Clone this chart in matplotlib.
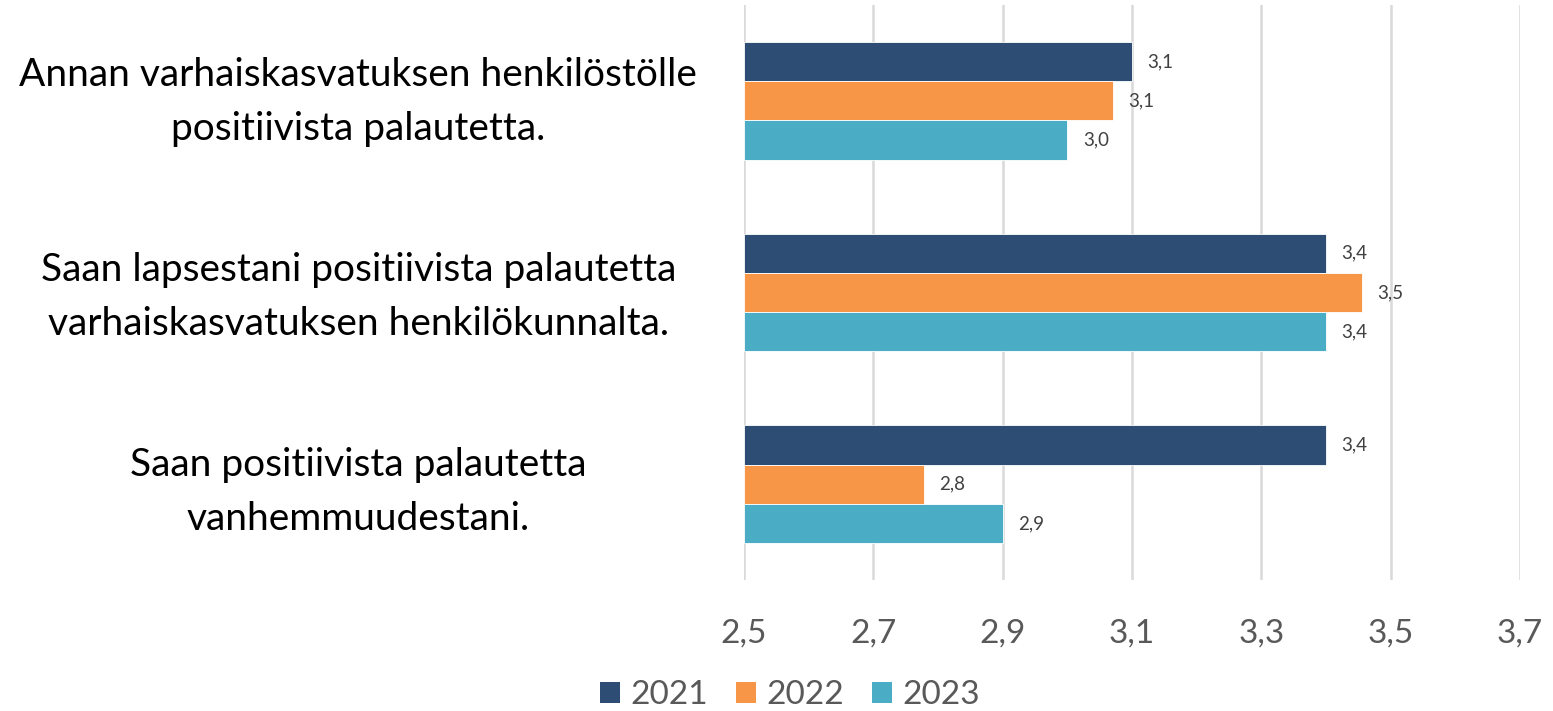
import matplotlib
matplotlib.use("Agg")
import matplotlib.pyplot as plt
import matplotlib.transforms as mtransforms
import numpy as np
from matplotlib.patches import Patch

categories = [
    "Annan varhaiskasvatuksen henkilöstölle\npositiivista palautetta.",
    "Saan lapsestani positiivista palautetta\nvarhaiskasvatuksen henkilökunnalta.",
    "Saan positiivista palautetta\nvanhemmuudestani.",
]
years = ["2021", "2022", "2023"]
values_2021 = [3.10, 3.40, 3.40]
values_2022 = [3.07, 3.455, 2.778]
values_2023 = [3.00, 3.40, 2.90]
xticks = [2.5, 2.7, 2.9, 3.1, 3.3, 3.5, 3.7]

colors = ["#2E4D75", "#F79646", "#4BACC6"]
series = [values_2021, values_2022, values_2023]

plt.rcParams['font.family'] = ['Lato', 'DejaVu Sans']

fig = plt.figure(figsize=(15.53, 7.11), dpi=100)
ax = fig.add_axes([744/1553, 1-580/711, (1520-744)/1553, (580-5)/711])

bar_h = 0.205
y = np.arange(len(categories))
for i, (vals, col) in enumerate(zip(series, colors)):
    pos = y + (i - 1) * bar_h
    ax.barh(pos, np.array(vals) - 2.5, left=2.5, height=bar_h, color=col,
            edgecolor='white', linewidth=0.6, zorder=3)
    for p, v in zip(pos, vals):
        ax.text(v + 0.024, p, f"{v:.1f}".replace('.', ','), va='center', ha='left',
                fontsize=13.5, color='#404040', zorder=4)

ax.set_xlim(2.5, 3.7)
ax.set_ylim(2.5, -0.5)
ax.set_xticks(xticks)
ax.set_xticklabels([f"{t:.1f}".replace('.', ',') for t in xticks], fontsize=24, color='#595959')
ax.tick_params(axis='x', length=0, pad=28)
ax.set_yticks(y)
ax.set_yticklabels([])
ax.tick_params(axis='y', length=0, pad=0)
trans = mtransforms.blended_transform_factory(ax.transAxes, ax.transData)
for yi, cat in zip(y, categories):
    ax.text(-0.497, yi * 1.017 + 0.008, cat, transform=trans, ha='center', va='center',
            fontsize=28, color='black', linespacing=1.62, clip_on=False)
ax.grid(axis='x', color='#D9D9D9', linewidth=1.8, zorder=0)
for s in ax.spines.values():
    s.set_visible(False)

handles = [Patch(facecolor=c, label=l) for c, l in zip(colors, years)]
leg = fig.legend(handles=handles, loc='center', bbox_to_anchor=(790/1553, 1-695/711), ncol=3,
                 frameon=False, fontsize=24, handlelength=0.6, handleheight=0.6,
                 handletextpad=0.3, columnspacing=0.85)
for t in leg.get_texts():
    t.set_color('#595959')

fig.savefig("out.png", dpi=100)
